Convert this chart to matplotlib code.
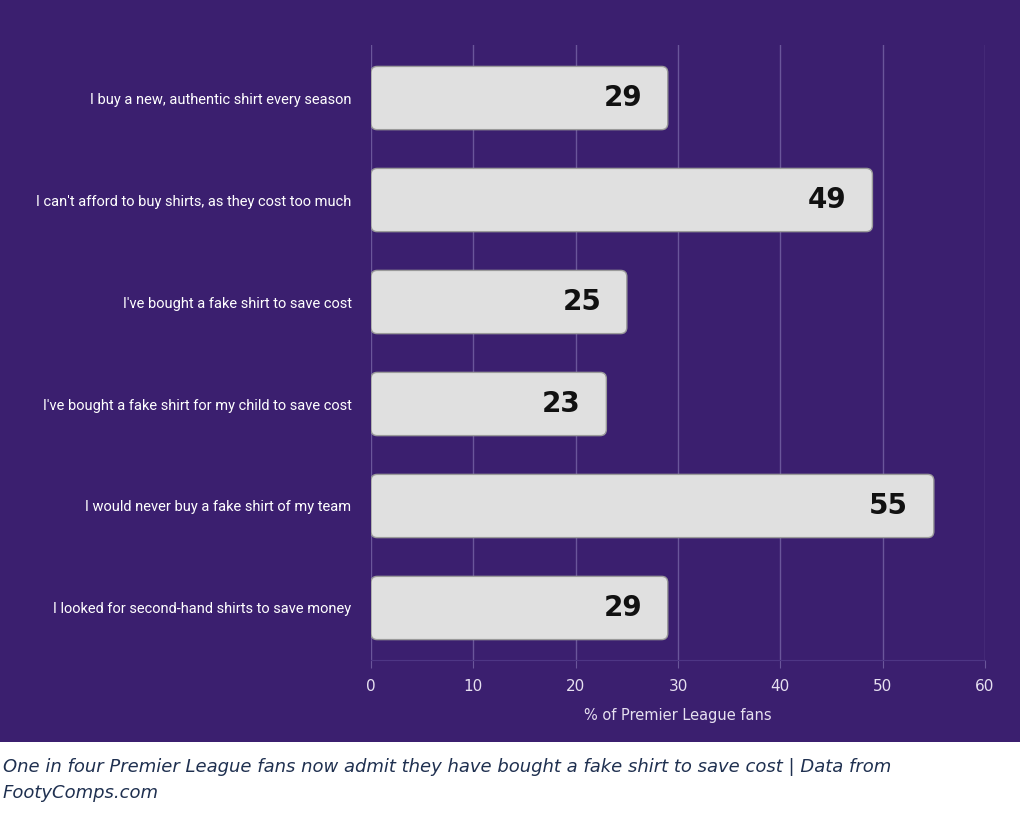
import matplotlib
matplotlib.use("Agg")
import matplotlib.pyplot as plt
from matplotlib.patches import Rectangle, FancyBboxPatch

categories = ["I buy a new, authentic shirt every season",
              "I can't afford to buy shirts, as they cost too much",
              "I've bought a fake shirt to save cost",
              "I've bought a fake shirt for my child to save cost",
              "I would never buy a fake shirt of my team",
              "I looked for second-hand shirts to save money"]
values = [29, 49, 25, 23, 55, 29]
xticks = [0, 10, 20, 30, 40, 50, 60]

purple = "#3b1f6f"
fig = plt.figure(figsize=(10.24, 8.3), dpi=100)
fig.patches.append(Rectangle((0, 1 - 742/830), 1020/1024, 742/830, transform=fig.transFigure,
                             facecolor=purple, edgecolor="none", zorder=-10))
ax = fig.add_axes([371/1024, 1 - 660/830, 614/1024, 615/830])
ax.set_facecolor(purple)
ax.set_xlim(0, 60)
ax.set_ylim(5.51, -0.52)
ypos = list(range(len(categories)))
bars = ax.barh(ypos, values, height=0.62, color="none", edgecolor="none")
for b, v in zip(bars, values):
    p = FancyBboxPatch((b.get_x(), b.get_y()), b.get_width(), b.get_height(),
                       boxstyle="round,pad=0,rounding_size=0.6", mutation_aspect=1/9.7,
                       facecolor="#e0e0e0", edgecolor="#9a9a9a", linewidth=1, zorder=3)
    ax.add_patch(p)
    ax.text(v - 2.5, b.get_y() + b.get_height()/2, str(v), ha="right", va="center",
            fontsize=20, fontweight="bold", color="#111111", zorder=4)
ax.set_yticks(ypos)
ax.set_yticklabels(categories, fontsize=10.5, color="white", family="Roboto")
ax.set_xticks(xticks)
ax.set_xticklabels([str(t) for t in xticks], fontsize=11, color="#e6e0f0")
ax.tick_params(axis="y", length=0, pad=14)
ax.tick_params(axis="x", length=6, color="#6a569a", pad=8)
ax.grid(axis="x", color="#6a569a", linewidth=1, zorder=0)
ax.set_axisbelow(True)
for s in ["top", "right", "left"]:
    ax.spines[s].set_visible(False)
ax.spines["bottom"].set_color("#4e3685")
ax.set_xlabel("% of Premier League fans", fontsize=10.5, color="#e6e0f0", labelpad=10)
fig.text(3/1024, 1 - 767/830, "One in four Premier League fans now admit they have bought a fake shirt to save cost | Data from",
         fontsize=13, style="italic", color="#1f3050", va="center")
fig.text(3/1024, 1 - 793/830, "FootyComps.com", fontsize=13, style="italic", color="#1f3050", va="center")
fig.savefig("out.png", dpi=100, facecolor="white")
